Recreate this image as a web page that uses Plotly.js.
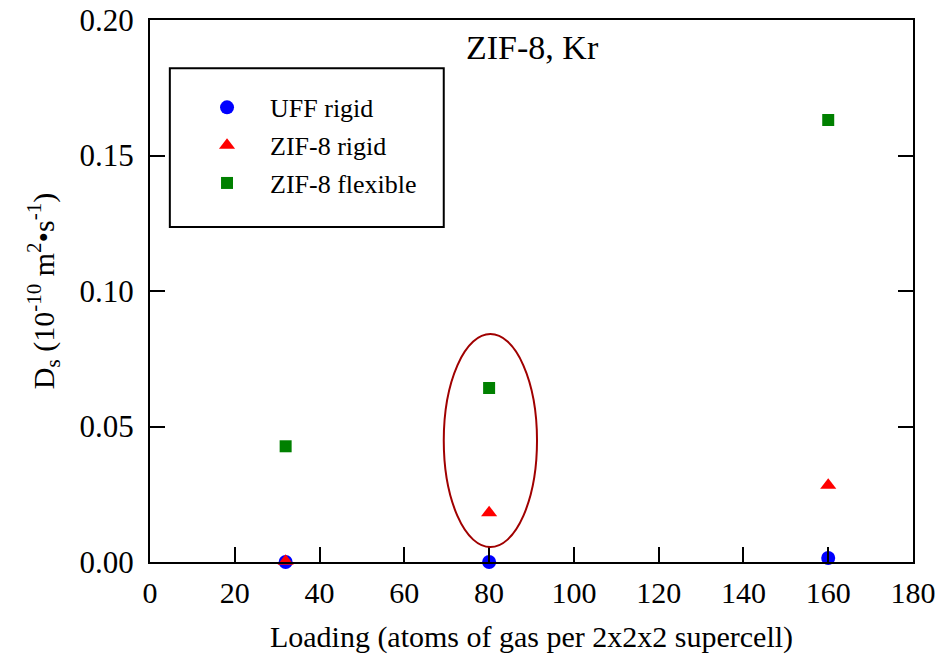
<!DOCTYPE html>
<html>
<head>
<meta charset="utf-8">
<script src="https://cdn.plot.ly/plotly-3.0.1.min.js"></script>
<style>html,body{margin:0;padding:0;background:#fff;}#chart{width:936px;height:661px;}</style>
</head>
<body>
<div id="chart"></div>
<script>
// Data
const loading = [32, 80, 160];
const uffRigid = [0.0000, 0.0000, 0.0015];
const zif8Rigid = [0.0003, 0.0182, 0.0283];
const zif8Flexible = [0.0427, 0.0642, 0.1631];
const seriesNames = ["UFF rigid", "ZIF-8 rigid", "ZIF-8 flexible"];
const xTicks = [0, 20, 40, 60, 80, 100, 120, 140, 160, 180];
const yTicks = [0.00, 0.05, 0.10, 0.15, 0.20];
const yTickText = ["0.00", "0.05", "0.10", "0.15", "0.20"];

const FONT = "Liberation Serif, Times New Roman, serif";

const traces = [
  {x: loading, y: uffRigid, name: seriesNames[0], type: "scatter", mode: "markers", legendgroup: "a",
   marker: {symbol: "circle", size: 14, color: "#0000ff"}, cliponaxis: false},
  {x: loading, y: zif8Rigid, name: seriesNames[1], type: "scatter", mode: "markers", legendgroup: "b",
   marker: {symbol: "triangle-up", size: 14, color: "#ff0000"}, cliponaxis: false},
  {x: loading, y: zif8Flexible, name: seriesNames[2], type: "scatter", mode: "markers", legendgroup: "c",
   marker: {symbol: "square", size: 12, color: "#008000"}, cliponaxis: false}
];

const layout = {
  width: 936, height: 661,
  margin: {l: 150, r: 23, t: 20, b: 99},
  paper_bgcolor: "#fff", plot_bgcolor: "#fff",
  font: {family: FONT, color: "#000", size: 26},
  showlegend: true,
  legend: {
    x: 0.0446, y: 0.882, xanchor: "left", yanchor: "top",
    bgcolor: "rgba(0,0,0,0)", borderwidth: 0,
    font: {family: FONT, size: 26, color: "#000"},
    traceorder: "grouped", tracegroupgap: 1, itemwidth: 76
  },
  xaxis: {
    range: [0, 180], tickvals: xTicks, ticktext: xTicks.map(String),
    ticks: "inside", ticklen: 15, tickwidth: 2, tickcolor: "#000",
    showline: true, linewidth: 2, linecolor: "#000", mirror: true,
    showgrid: false, zeroline: false, ticklabeloverflow: "allow",
    tickfont: {family: FONT, size: 30}, ticklabelstandoff: 3,
    title: {text: "Loading (atoms of gas per 2x2x2 supercell)", font: {family: FONT, size: 30}, standoff: 18}
  },
  yaxis: {
    range: [0, 0.2], tickvals: yTicks, ticktext: yTickText,
    ticks: "inside", ticklen: 15, tickwidth: 2, tickcolor: "#000",
    showline: true, linewidth: 2, linecolor: "#000", mirror: "ticks",
    showgrid: false, zeroline: false,
    tickfont: {family: FONT, size: 31}, ticklabelstandoff: 8,
    title: {text: "D<sub>s</sub> (10<sup>-10</sup> m<sup>2</sup>•s<sup>-1</sup>)", font: {family: FONT, size: 30}, standoff: 16}
  },
  shapes: [
    {type: "rect", xref: "paper", yref: "paper", x0: 0.026, x1: 0.385, y0: 0.618, y1: 0.911,
     line: {color: "#000", width: 2}, fillcolor: "rgba(0,0,0,0)", layer: "above"},
    {type: "circle", xref: "x", yref: "y", x0: 69.3, x1: 91.3, y0: 0.0055, y1: 0.0841,
     line: {color: "#a00000", width: 2}, fillcolor: "rgba(0,0,0,0)"}
  ],
  annotations: [
    {text: "ZIF-8, Kr", xref: "paper", yref: "paper", x: 0.501, y: 0.95, xanchor: "center", yanchor: "middle",
     showarrow: false, font: {family: FONT, size: 34, color: "#000"}}
  ]
};

Plotly.newPlot("chart", traces, layout, {displayModeBar: false, staticPlot: true});
</script>
</body>
</html>
